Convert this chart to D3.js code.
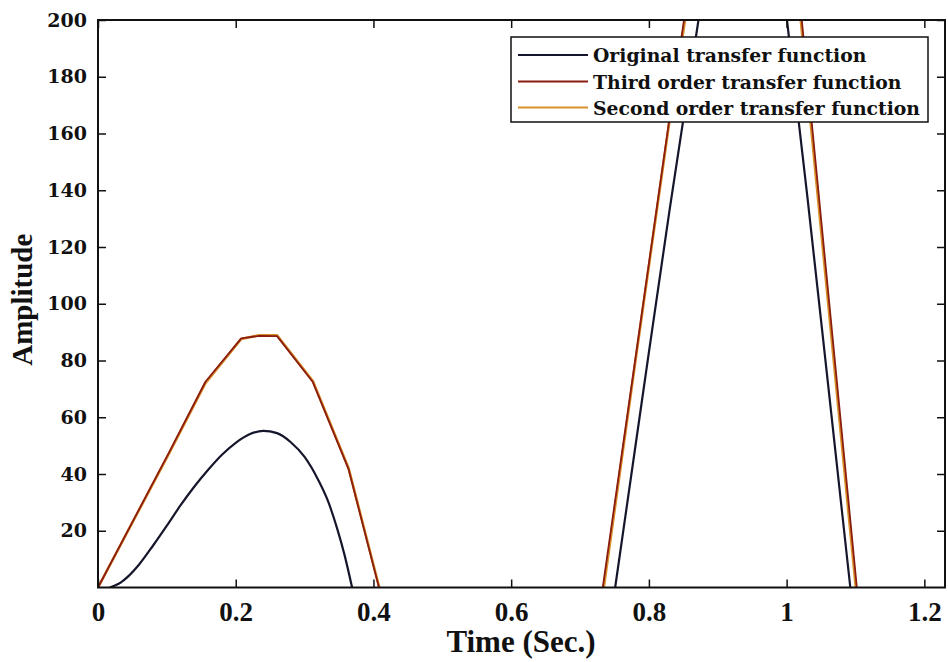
<!DOCTYPE html>
<html>
<head>
<meta charset="utf-8">
<script src="https://cdn.jsdelivr.net/npm/d3@7"></script>
<style>
  body { margin: 0; background: #ffffff; }
  svg { display: block; }
</style>
</head>
<body>
<script>
// Step responses: original system and its reduced-order approximations.
// null marks stretches where the response leaves the visible amplitude range.
const tOriginal   = [0.017, 0.030, 0.045, 0.060, 0.080, 0.100, 0.120, 0.140, 0.160, 0.180, 0.200, 0.220, 0.240, 0.260, 0.280, 0.300, 0.320, 0.335, 0.347, 0.358, 0.369, 0.56, 0.751, 0.790, 0.830, 0.872, 0.94, 1.0005, 1.030, 1.060, 1.0925];
const ampOriginal = [0, 1.3, 4.2, 8.2, 14.8, 21.8, 29, 35.6, 41.5, 46.8, 51, 54, 55.2, 54.4, 51.2, 46, 37.8, 29.8, 21, 11.5, 0, null, 0, 66, 133, 200, null, 200, 138, 72, 0];

const tThird   = [0, 0.052, 0.104, 0.156, 0.208, 0.234, 0.260, 0.312, 0.364, 0.408, 0.57, 0.733, 0.780, 0.832, 0.851, 0.94, 1.022, 1.040, 1.092, 1.102];
const ampThird = [0, 24, 48, 72.5, 87.8, 88.7, 88.6, 72.4, 41.6, 0, null, 0, 80, 169, 200, null, 200, 155, 25, 0];

const tSecond   = [0, 0.052, 0.104, 0.156, 0.208, 0.234, 0.260, 0.312, 0.364, 0.4085, 0.57, 0.7345, 0.780, 0.832, 0.8525, 0.94, 1.0205, 1.040, 1.092, 1.1005];
const ampSecond = [0, 23.8, 47.6, 72.0, 87.6, 88.9, 88.9, 72.8, 42.0, 0, null, 0, 79, 168, 200, null, 200, 151, 21, 0];

const xTicks = [0, 0.2, 0.4, 0.6, 0.8, 1, 1.2];
const yTicks = [20, 40, 60, 80, 100, 120, 140, 160, 180, 200];

const legendLabels = ["Original transfer function", "Third order transfer function", "Second order transfer function"];
const legendColors = ["#15162c", "#8b1c10", "#d9902a"];

const W = 948, H = 662;
const plot = { left: 98, right: 945, top: 20, bottom: 587.5 };

const svg = d3.select("body").append("svg").attr("width", W).attr("height", H);

const x = d3.scaleLinear().domain([0, 1.23]).range([plot.left, plot.right]);
const y = d3.scaleLinear().domain([0, 200]).range([plot.bottom, plot.top]);

svg.append("defs").append("clipPath").attr("id", "plot-clip")
  .append("rect")
  .attr("x", plot.left).attr("y", plot.top)
  .attr("width", plot.right - plot.left).attr("height", plot.bottom - plot.top);

// Curves
const zip = (ts, vs) => ts.map((t, i) => ({ t, v: vs[i] }));

const smoothLine = d3.line()
  .defined(d => d.v !== null)
  .x(d => x(d.t)).y(d => y(d.v))
  .curve(d3.curveMonotoneX);

const polyLine = d3.line()
  .defined(d => d.v !== null)
  .x(d => x(d.t)).y(d => y(d.v));

const curves = svg.append("g").attr("clip-path", "url(#plot-clip)");

curves.append("path")
  .datum(zip(tSecond, ampSecond))
  .attr("d", polyLine)
  .attr("fill", "none").attr("stroke", legendColors[2])
  .attr("stroke-width", 2.6).attr("stroke-linejoin", "round");

curves.append("path")
  .datum(zip(tThird, ampThird))
  .attr("d", polyLine)
  .attr("fill", "none").attr("stroke", legendColors[1])
  .attr("stroke-width", 1.8).attr("stroke-linejoin", "round");

curves.append("path")
  .datum(zip(tOriginal, ampOriginal))
  .attr("d", smoothLine)
  .attr("fill", "none").attr("stroke", legendColors[0])
  .attr("stroke-width", 2.2).attr("stroke-linejoin", "round");

// Axes with inward ticks on all four sides
const fmtX = d => d3.format("~g")(d);

const xAxis = svg.append("g")
  .attr("transform", `translate(0,${plot.bottom})`)
  .call(d3.axisBottom(x).tickValues(xTicks).tickSize(-8).tickPadding(14).tickFormat(fmtX));
xAxis.selectAll("text")
  .attr("font-family", "'Liberation Serif', 'Times New Roman', serif")
  .attr("font-weight", "bold").attr("font-size", 27).attr("fill", "#111");

svg.append("g")
  .attr("transform", `translate(0,${plot.top})`)
  .call(d3.axisTop(x).tickValues(xTicks).tickSize(-8).tickFormat(""));

const yAxis = svg.append("g")
  .attr("transform", `translate(${plot.left},0)`)
  .call(d3.axisLeft(y).tickValues(yTicks).tickSize(-8).tickPadding(11));
yAxis.selectAll("text")
  .attr("font-family", "'DejaVu Serif', serif")
  .attr("font-weight", "bold").attr("font-size", 19).attr("fill", "#111");

svg.append("g")
  .attr("transform", `translate(${plot.right},0)`)
  .call(d3.axisRight(y).tickValues(yTicks).tickSize(-8).tickFormat(""));

svg.selectAll(".domain").remove();
svg.selectAll(".tick line").attr("stroke", "#111").attr("stroke-width", 1.5);

// Plot frame
svg.append("rect")
  .attr("x", plot.left).attr("y", plot.top)
  .attr("width", plot.right - plot.left).attr("height", plot.bottom - plot.top)
  .attr("fill", "none").attr("stroke", "#111").attr("stroke-width", 2);

// Axis titles
svg.append("text")
  .attr("x", 521).attr("y", 652)
  .attr("text-anchor", "middle")
  .attr("font-family", "'Liberation Serif', 'Times New Roman', serif")
  .attr("font-weight", "bold").attr("font-size", 31).attr("fill", "#111")
  .text("Time (Sec.)");

svg.append("text")
  .attr("transform", `translate(32,${(plot.top + plot.bottom) / 2 - 4}) rotate(-90)`)
  .attr("text-anchor", "middle")
  .attr("font-family", "'Liberation Serif', 'Times New Roman', serif")
  .attr("font-weight", "bold").attr("font-size", 29).attr("fill", "#111")
  .text("Amplitude");

// Legend
const legend = svg.append("g");
legend.append("rect")
  .attr("x", 511).attr("y", 37).attr("width", 417).attr("height", 85)
  .attr("fill", "#fff").attr("stroke", "#111").attr("stroke-width", 1.5);

const rowY = [55, 81.5, 107.5];
legendLabels.forEach((label, i) => {
  legend.append("line")
    .attr("x1", 518).attr("x2", 588).attr("y1", rowY[i]).attr("y2", rowY[i])
    .attr("stroke", legendColors[i]).attr("stroke-width", 2);
  legend.append("text")
    .attr("x", 593).attr("y", rowY[i] + 7)
    .attr("font-family", "'DejaVu Serif', serif")
    .attr("font-weight", "bold").attr("font-size", 18.8).attr("fill", "#111")
    .text(label);
});
</script>
</body>
</html>
